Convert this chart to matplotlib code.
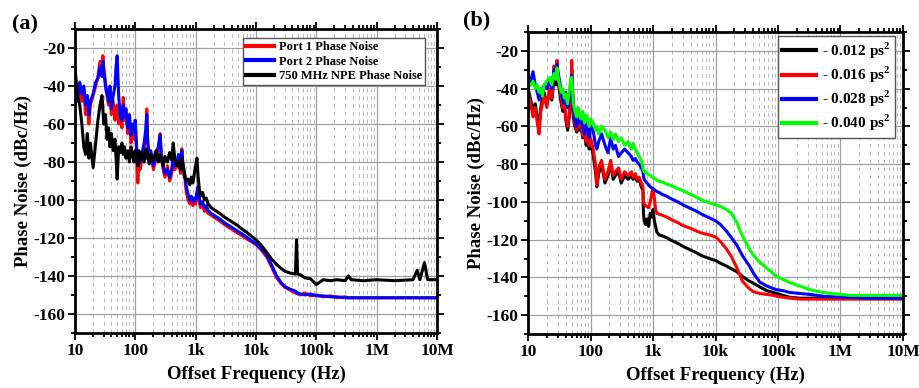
import matplotlib
matplotlib.use('Agg')
import matplotlib.pyplot as plt
from matplotlib.ticker import FixedLocator, LogLocator, NullFormatter, MultipleLocator

plt.rcParams['font.family'] = ['Liberation Serif', 'DejaVu Serif']
plt.rcParams['font.weight'] = 'bold'
plt.rcParams['axes.unicode_minus'] = False
plt.rcParams['mathtext.fontset'] = 'custom'
plt.rcParams['mathtext.rm'] = 'Liberation Serif:bold'

# ---- panel (a) data ----
freq_a = [10, 11, 12, 13, 14, 15, 16, 17, 18, 20,
          22, 24, 26, 28, 29, 30, 32, 34, 36, 38,
          40, 43, 46, 48, 50, 53, 56, 60, 63, 66,
          70, 75, 80, 85, 90, 95, 100, 105, 110, 115,
          120, 130, 140, 150, 155, 160, 170, 180, 200, 220,
          240, 258, 270, 290, 310, 340, 370, 400, 425, 450,
          490, 520, 560, 590, 620, 660, 700, 750, 800, 850,
          900, 950, 1000, 1050, 1100, 1150, 1200, 1300, 1400, 1500,
          1600, 1800, 2000, 2500, 3000, 4000, 5000, 6000, 7000, 8000,
          10000, 12000, 15000, 18000, 22000, 26000, 30000, 37000, 45000, 47000,
          49000, 55000, 65000, 80000, 100000, 130000, 170000, 220000, 300000, 340000,
          380000, 600000, 1e6, 2e6, 4e6, 4.7e6, 5.2e6, 6.2e6, 7e6, 1e7]

port1 = [-38, -45, -40, -48, -42, -55, -48, -60, -50, -45,
         -40, -35, -27, -33, -24, -30, -38, -45, -50, -42,
         -55, -48, -58, -52, -50, -60, -52, -62, -46, -58,
         -55, -65, -58, -70, -62, -68, -60, -75, -91, -80,
         -84, -78, -72, -64, -52, -70, -80, -76, -84, -78,
         -74, -65, -78, -84, -88, -82, -90, -86, -80, -84,
         -82, -78, -86, -73, -84, -88, -96, -100, -102, -99,
         -103, -101, -102, -97, -95, -101, -104, -103, -106, -105,
         -107, -108, -109, -111, -113, -115.5, -117.5, -119, -120.5, -121.5,
         -123.5, -126, -130, -135, -141, -144, -146, -147.5, -149, -148.5,
         -149.5, -150, -149, -150.5, -150, -151, -150.5, -151.5, -151, -151.5,
         -151.5, -151.5, -151.5, -151.5, -151.5, -151.5, -151.5, -151.5, -151.5, -151.5]

port2 = [-42, -48, -38, -44, -40, -50, -45, -55, -48, -44,
         -38, -36, -30, -35, -27, -32, -40, -44, -48, -40,
         -52, -45, -40, -30, -24, -45, -55, -58, -50, -56,
         -52, -62, -55, -66, -60, -64, -58, -72, -82, -78,
         -80, -75, -70, -62, -55, -68, -78, -74, -82, -76,
         -72, -66, -76, -82, -86, -84, -88, -84, -78, -82,
         -80, -76, -84, -74, -82, -86, -93, -97, -100, -98,
         -101, -99, -100, -96, -93, -99, -102, -101, -104, -103,
         -105.5, -107, -108, -110, -112, -114.5, -116.5, -118, -119.5, -121,
         -123, -125.5, -129, -134, -140, -143.5, -145.5, -147, -148, -149,
         -149, -149.5, -150, -149.5, -150.5, -150.5, -151, -151, -151.5, -151.5,
         -151.5, -151.5, -151.5, -151.5, -151.5, -151.5, -151.5, -151.5, -151.5, -151.5]

npe = [-30, -45, -50, -60, -72, -76, -65, -78, -70, -83,
       -70, -58, -50, -45, -52, -60, -55, -68, -62, -72,
       -65, -74, -68, -78, -89, -72, -75, -70, -76, -72,
       -78, -74, -80, -72, -76, -80, -74, -78, -82, -74,
       -79, -75, -80, -73, -78, -75, -81, -76, -79, -74,
       -80, -76, -79, -82, -77, -80, -75, -79, -70, -78,
       -82, -80, -84, -78, -82, -88, -90, -89, -92, -88,
       -91, -86, -82, -78, -88, -94, -98, -96, -100, -99,
       -102, -104, -105, -107, -109, -111.5, -113.5, -115.5, -117, -118.5,
       -121, -123.5, -127.5, -131, -134, -136, -137.5, -138.5, -139, -121,
       -139, -139.5, -141, -141.5, -144.5, -142, -142.5, -142, -142.5, -140,
       -142, -142.5, -142, -142.5, -142, -137, -142, -133, -142, -142]

# ---- panel (b) data ----
freq_b = [10, 11, 12, 13, 14, 15, 16, 17, 18, 20,
          22, 24, 26, 28, 29, 30, 32, 34, 36, 38,
          40, 43, 46, 48, 50, 53, 56, 60, 63, 66,
          70, 75, 80, 85, 90, 95, 100, 110, 120, 126,
          135, 150, 170, 190, 210, 230, 250, 280, 310, 350,
          400, 450, 480, 520, 560, 600, 650, 690, 700, 720,
          760, 800, 850, 900, 950, 1000, 1050, 1100, 1150, 1250,
          1400, 1660, 2000, 2500, 3000, 4000, 5000, 6000, 8000, 10000,
          12000, 15000, 18000, 22000, 27000, 35000, 40000, 51000, 66000, 85000,
          95000, 120000, 155000, 225000, 325000, 530000, 1e6, 1.4e6, 3e6, 1e7]

d012 = [-40, -46, -52, -48, -55, -60, -50, -45, -42, -48,
        -42, -46, -35, -38, -30, -35, -42, -48, -52, -46,
        -56, -62, -54, -48, -30, -55, -60, -63, -58, -62,
        -60, -66, -64, -70, -66, -72, -68, -75, -84, -92,
        -85, -80, -90, -86, -80, -88, -86, -84, -90, -86,
        -88, -86, -88, -87, -89, -88, -92, -94, -105, -110,
        -112, -109, -113, -106, -108, -104, -110, -113, -116, -117.5,
        -118, -119, -120.5, -122, -123.5, -125.5, -127, -128.5, -130, -131,
        -132.5, -134, -135.5, -137, -139.5, -142, -143, -145, -147, -148,
        -148.5, -149.5, -150.5, -151, -151, -151, -151, -151, -151, -151]

d016 = [-42, -48, -55, -50, -58, -64, -52, -48, -44, -50,
        -40, -45, -28, -35, -25, -32, -40, -45, -50, -42,
        -55, -60, -52, -45, -25, -52, -58, -62, -55, -60,
        -58, -65, -62, -68, -64, -70, -66, -72, -80, -91,
        -82, -78, -88, -84, -78, -86, -84, -82, -88, -84,
        -86, -84, -87, -85, -88, -87, -90, -92, -100, -101,
        -102, -102.5, -103, -100, -96, -93, -98, -104, -106, -106.5,
        -107, -108, -109.5, -111, -112.5, -114, -115.5, -116.5, -117.5, -118.5,
        -121, -125, -129, -135, -142, -146, -147.5, -148.5, -149, -149.5,
        -150, -150.5, -151, -151.5, -151.5, -151.5, -151.5, -151.5, -151.5, -151.5]

d028 = [-40, -36, -31, -38, -42, -46, -40, -44, -38, -40,
        -36, -40, -30, -32, -27, -31, -36, -42, -46, -48,
        -42, -50, -46, -40, -33, -50, -56, -60, -52, -58,
        -56, -60, -64, -58, -62, -66, -60, -62, -70, -72,
        -68, -64, -70, -74, -66, -72, -70, -76, -74, -72,
        -74, -76, -78, -77, -79, -80, -82, -84, -86, -88,
        -89, -90, -91, -92, -92.5, -93, -93.5, -94, -94.5, -95,
        -96, -97, -98.5, -100, -101.5, -103.5, -105, -106.5, -108.5, -110,
        -112, -115.5, -119, -123, -128.5, -134, -137.5, -142.5, -144.5, -146,
        -146.5, -147, -148, -148.5, -149, -150, -150.5, -150.5, -151, -151]

d040 = [-37, -38, -36, -40, -38, -42, -40, -44, -38, -36,
        -34, -38, -32, -35, -29, -33, -38, -42, -40, -45,
        -43, -48, -40, -36, -34, -48, -52, -55, -50, -53,
        -56, -52, -58, -54, -56, -60, -56, -58, -62, -60,
        -64, -60, -62, -66, -63, -67, -64, -68, -66, -70,
        -68, -72, -69, -72, -74, -76, -78, -82, -83, -84,
        -84, -85, -85.5, -86, -86.5, -87, -87.5, -88, -88.5, -89,
        -89.5, -90.5, -91.5, -93, -94, -96, -97.5, -99, -100.5, -101.5,
        -102.5, -104, -106, -111, -118, -125, -128, -132, -135, -138,
        -139.5, -141, -142.7, -144.6, -146.5, -148, -149, -149.5, -149.5, -149.5]

x_ticks = [10, 100, 1e3, 1e4, 1e5, 1e6, 1e7]
x_ticklabels = ['10', '100', '1k', '10k', '100k', '1M', '10M']
y_ticks = [-160, -140, -120, -100, -80, -60, -40, -20]


def style_axes(ax):
    ax.set_xscale('log')
    ax.set_xlim(10, 1e7)
    ax.set_ylim(-170, -10)
    ax.xaxis.set_major_locator(FixedLocator(x_ticks))
    ax.set_xticklabels(x_ticklabels)
    ax.xaxis.set_minor_locator(LogLocator(base=10, subs=range(2, 10), numticks=20))
    ax.xaxis.set_minor_formatter(NullFormatter())
    ax.set_yticks(y_ticks)
    ax.yaxis.set_minor_locator(MultipleLocator(10))
    ax.grid(True, which='major', color='#a0a0a0', lw=0.9, ls='-')
    ax.grid(True, which='minor', axis='x', color='#b8b8b8', lw=0.7, ls=(0, (4, 4)))
    ax.set_axisbelow(True)
    ax.tick_params(which='both', top=True, right=True, labelsize=12.5, width=1.3, pad=2)
    ax.tick_params(which='major', length=5)
    ax.tick_params(which='minor', length=3)
    for s in ax.spines.values():
        s.set_linewidth(2)
    ax.set_xlabel('Offset Frequency (Hz)', fontsize=13.5, fontweight='bold', labelpad=5)
    ax.set_ylabel('Phase Noise (dBc/Hz)', fontsize=13.5, fontweight='bold', labelpad=1)
    for lab in ax.get_xticklabels() + ax.get_yticklabels():
        lab.set_fontweight('bold')


fig = plt.figure(figsize=(9.2, 3.88), dpi=100)
ax1 = fig.add_axes([0.0815, 0.142, 0.3935, 0.783])
ax2 = fig.add_axes([0.574, 0.139, 0.4075, 0.7785])

ax1.plot(freq_a, port1, color='#ff0000', lw=2.2, label='Port 1 Phase Noise')
ax1.plot(freq_a, port2, color='#0000ff', lw=2.2, label='Port 2 Phase Noise')
ax1.plot(freq_a, npe, color='black', lw=2.2, label='750 MHz NPE Phase Noise')
style_axes(ax1)
leg1 = ax1.legend(loc='upper right', bbox_to_anchor=(0.967, 0.97), fontsize=9,
                  handlelength=2.2, handletextpad=0.4, borderaxespad=0, fancybox=False,
                  edgecolor='#555555', framealpha=1, borderpad=0.25, labelspacing=0.2)
for line in leg1.get_lines():
    line.set_linewidth(3)

ax2.plot(freq_b, d012, color='black', lw=2.2, label='- 0.012 ps$^2$')
ax2.plot(freq_b, d016, color='#ff0000', lw=2.2, label='- 0.016 ps$^2$')
ax2.plot(freq_b, d028, color='#0000ff', lw=2.2, label='- 0.028 ps$^2$')
ax2.plot(freq_b, d040, color='#00ff00', lw=2.2, label='- 0.040 ps$^2$')
style_axes(ax2)
leg2 = ax2.legend(loc='upper right', bbox_to_anchor=(0.979, 0.987), fontsize=11,
                  handlelength=2.2, handletextpad=0.4, borderaxespad=0, fancybox=False,
                  edgecolor='#555555', framealpha=1, borderpad=0.3, labelspacing=0.25)
for line in leg2.get_lines():
    line.set_linewidth(3)

fig.text(0.013, 0.925, '(a)', fontsize=16, fontweight='bold')
fig.text(0.503, 0.935, '(b)', fontsize=16, fontweight='bold')

fig.savefig('out.png', dpi=100)
